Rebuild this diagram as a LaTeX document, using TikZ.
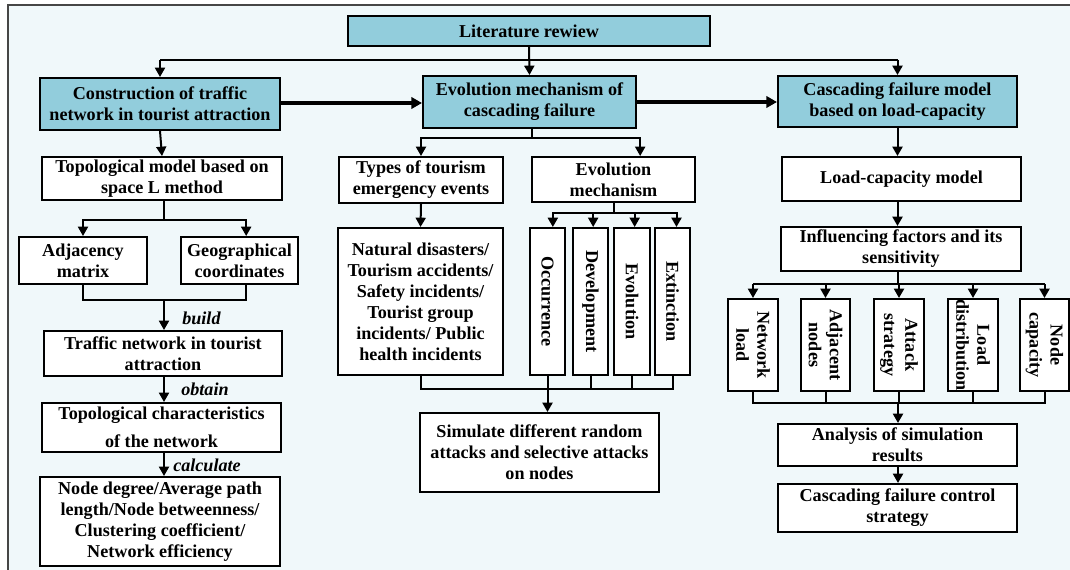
\documentclass[tikz,border=0pt]{standalone}
\usepackage{fontspec}
\setmainfont{Liberation Serif}
\usetikzlibrary{arrows.meta,calc}
\definecolor{hdr}{RGB}{146,205,220}
\definecolor{bgc}{RGB}{240,248,250}
\definecolor{frm}{RGB}{70,70,70}
\newcommand\bx[7][]{\node[box,#1,minimum width={(#5-#3)*0.75pt},minimum height={(#6-#4)*0.75pt}] (#2) at ({(#3+#5)/2},{(#4+#6)/2}) {#7};}
\newcommand\vbx[7][]{\node[box,rotate=-90,#1,minimum width={(#6-#4)*0.75pt},minimum height={(#5-#3)*0.75pt}] (#2) at ({(#3+#5)/2},{(#4+#6)/2}) {#7};}
\begin{document}
\begin{tikzpicture}[x=0.75pt,y=-0.75pt,
  box/.style={draw=black,line width=1.5pt,fill=white,inner sep=0pt,align=center,
    font=\fontsize{13.6}{15.8}\selectfont\bfseries},
  hbox/.style={fill=hdr},
  ln/.style={line width=1.5pt},
  arr/.style={line width=1.5pt,-{Triangle[length=7pt,width=7.5pt]}},
  tarr/.style={line width=2.6pt,-{Triangle[length=8pt,width=8.5pt]}},
  lbl/.style={anchor=west,inner sep=0pt,font=\fontsize{13.6}{15.8}\selectfont\bfseries\itshape}]
\useasboundingbox (0,0) rectangle (1070,570);
\fill[white] (0,0) rectangle (1070,570);
\draw[frm,line width=1.5pt,fill=bgc] (8,5) rectangle (1090,590);
% headers
\bx[hbox]{lit}{348}{16}{710}{46}{Literature rewiew}
\bx[hbox]{cons}{40}{78}{280}{130}{Construction of traffic\\network in tourist attraction}
\bx[hbox]{evo}{423}{76}{636}{128}{Evolution mechanism of\\cascading failure}
\bx[hbox]{casc}{778}{76}{1017}{127}{Cascading failure model\\based on load-capacity}
% left column
\bx{topo}{42}{157}{282}{200}{Topological model based on\\space L method}
\bx{adj}{19}{237}{147}{284}{Adjacency\\matrix}
\bx{geo}{181}{237}{298}{284}{Geographical\\coordinates}
\bx{tn}{44}{331}{282}{376}{Traffic network in tourist\\attraction}
\bx{tc}{42}{403}{281}{452}{Topological characteristics\\[5pt]of the network}
\bx{nd}{40}{477}{280}{566}{Node degree/Average path\\length/Node betweenness/\\Clustering coefficient/\\Network efficiency}
% middle column
\bx{types}{339}{157}{503}{203}{Types of tourism\\emergency events}
\bx{emech}{532}{157}{695}{202}{Evolution\\mechanism}
\bx{nat}{338}{228}{503}{375}{Natural disasters/\\Tourism accidents/\\Safety incidents/\\Tourist group\\incidents/ Public\\health incidents}
\vbx{occ}{530}{228}{565}{375}{Occurrence}
\vbx{dev}{573}{228}{608}{375}{Development}
\vbx{evl}{614}{228}{650}{375}{Evolution}
\vbx{ext}{655}{228}{690}{375}{Extinction}
\bx{sim}{420}{413}{659}{492}{Simulate different random\\attacks and selective attacks\\on nodes}
% right column
\bx{lcm}{782}{157}{1021}{201}{Load-capacity model}
\bx{inf}{781}{227}{1021}{271}{Influencing factors and its\\sensitivity}
\vbx{nl}{728}{299}{778}{391}{Network\\load}
\vbx{an}{801}{299}{850}{391}{Adjacent\\nodes}
\vbx{as}{874}{299}{924}{391}{Attack\\strategy}
\vbx{ld}{948}{299}{998}{391}{Load\\distribution}
\vbx{nc}{1020}{299}{1069}{391}{Node\\capacity}
\bx{ana}{778}{424}{1017}{466}{Analysis of simulation\\results}
\bx{ctl}{778}{484}{1017}{532}{Cascading failure control\\strategy}
% top connectors
\coordinate (t0) at (530,60);
\draw[arr] (lit.south) -- (evo.north);
\draw[ln] (cons.north |- t0) -- (casc.north |- t0);
\draw[arr] (cons.north |- t0) -- (cons.north);
\draw[arr] (casc.north |- t0) -- (casc.north);
\draw[tarr] (cons.east |- 0,103) -- (evo.west |- 0,103);
\draw[tarr] (evo.east |- 0,102) -- (casc.west |- 0,102);
% left connectors
\draw[arr] (cons.south) -- (topo.north);
\coordinate (l1) at (164,220);
\draw[ln] (topo.south -| l1) -- (l1);
\draw[arr] (l1) -| (adj.north);
\draw[arr] (l1) -| ([xshift=5pt]geo.north);
\coordinate (l2) at (164,300);
\draw[ln] (adj.south) |- (l2) -| ([xshift=5pt]geo.south);
\draw[arr] (l2) -- (tn.north -| l2);
\node[lbl] (bl) at (182,318) {build};
\draw[arr] (tn.south -| l2) -- (tc.north -| l2);
\node[lbl] (ol) at (181,389) {obtain};
\draw[arr] (tc.south -| l2) -- (nd.north -| l2);
\node[lbl] (cl) at (173,465) {calculate};
% middle connectors
\coordinate (m1) at (532,138);
\draw[ln] (evo.south -| m1) -- (m1);
\draw[arr] (m1) -| (types.north);
\draw[arr] (m1) -| ([xshift=20pt]emech.north);
\draw[arr] (types.south) -- (nat.north);
\coordinate (m2) at (614,213);
\draw[ln] (emech.south -| m2) -- (m2);
\draw[arr] (m2) -| ([xshift=4pt]occ.west);
\draw[arr] (m2) -| ([xshift=2pt]dev.west);
\draw[arr] (m2) -| ([xshift=2pt]evl.west);
\draw[arr] (m2) -| ([xshift=3pt]ext.west);
\coordinate (m3) at (548,389);
\draw[ln] (nat.south) |- (m3) -| (ext.east);
\draw[ln] (occ.east) -- (occ.east |- m3);
\draw[ln] (dev.east) -- (dev.east |- m3);
\draw[ln] (evl.east) -- (evl.east |- m3);
\draw[arr] (occ.east |- m3) -- (sim.north -| occ.east);
% right connectors
\draw[arr] (casc.south) -- (lcm.north -| casc.south);
\draw[arr] (lcm.south -| casc.south) -- (inf.north -| casc.south);
\coordinate (r1) at (898,284);
\draw[ln] (inf.south -| r1) -- (r1);
\draw[ln] (nl.west |- r1) -- (nc.west |- r1);
\draw[arr] (nl.west |- r1) -- (nl.west);
\draw[arr] (an.west |- r1) -- (an.west);
\draw[arr] (as.west |- r1) -- (as.west);
\draw[arr] (ld.west |- r1) -- (ld.west);
\draw[arr] (nc.west |- r1) -- (nc.west);
\coordinate (r2) at (898,403);
\draw[ln] (nl.east) |- (r2) -| (nc.east);
\draw[ln] (an.east) -- (an.east |- r2);
\draw[ln] (as.east) -- (as.east |- r2);
\draw[ln] (ld.east) -- (ld.east |- r2);
\draw[arr] (r2) -- (ana.north -| r2);
\draw[arr] (ana.south -| r2) -- (ctl.north -| r2);
\end{tikzpicture}
\end{document}
